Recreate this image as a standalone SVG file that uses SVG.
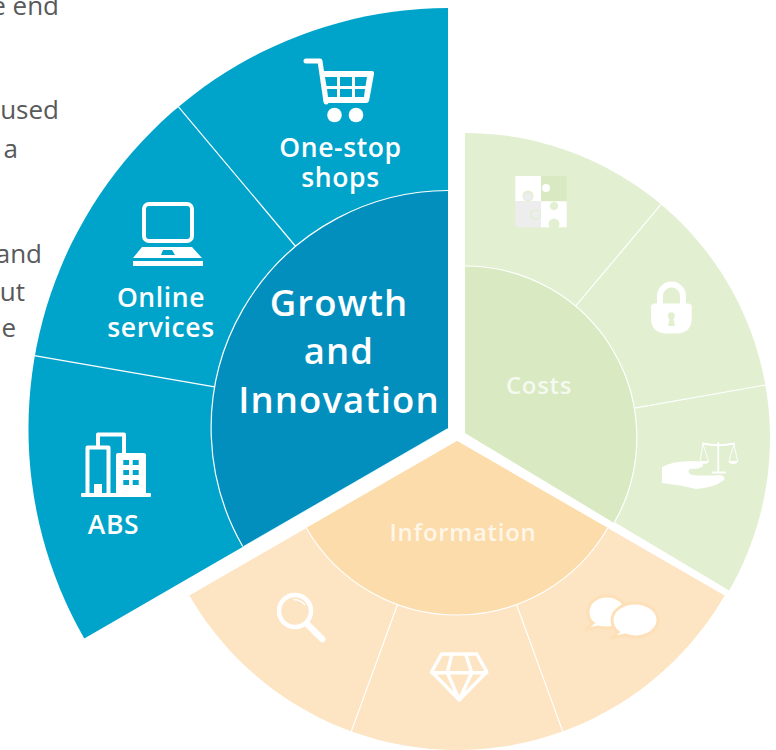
<svg xmlns="http://www.w3.org/2000/svg" width="776" height="750" viewBox="0 0 776 750">
<style>
text{font-family:"Open Sans","Noto Sans","Liberation Sans",sans-serif}
.side{font-size:26px;fill:#58595b;text-anchor:end}
.lab{font-size:26.500px;font-weight:600;fill:#fff;text-anchor:middle;letter-spacing:.6px}
.big{font-size:36.500px;font-weight:600;fill:#fff;text-anchor:middle;letter-spacing:1.100px}
.soft{font-size:24px;font-weight:600;fill:#fff;fill-opacity:.75;text-anchor:middle;letter-spacing:.7px}
.b-o{fill:#00a4ca}.b-i{fill:#028fbe}.g-o{fill:#e2efd1}.g-i{fill:#d9eac3}.o-o{fill:#fde4c2}.o-i{fill:#fcdcaa}
.sep{fill:none;stroke:#fff;stroke-width:1.200}
.w{fill:#fff}.ws{fill:none;stroke:#fff;stroke-linejoin:round;stroke-linecap:round}
</style>
<rect width="776" height="750" fill="#fff"/>
<g id="side-text">
<text class="side" x="59" y="15">e end</text>
<text class="side" x="59" y="119">used</text>
<text class="side" x="18" y="158">a</text>
<text class="side" x="42" y="263">and</text>
<text class="side" x="25" y="301">ut</text>
<text class="side" x="16" y="337">e</text>
</g>
<g id="growth-and-innovation">
<path class="b-o" d="M448 428.500L448 8A421 421 0 0 0 84.300 638.500Z"/>
<path class="b-i" d="M448 428L448 190.500A237.500 237.500 0 0 0 242.800 546.500Z"/>
<path class="sep" d="M448 190.500A237.500 237.500 0 0 0 242.800 546.500M178.500 106.800L295.700 246.500M34.400 355.600L214.600 386.800"/>
<path d="M243.500 546.500L447.500 428.700" fill="none" stroke="#fff" stroke-width=".8"/>
<g id="node-one-stop">
<path class="ws" stroke-width="5" d="M306 61H320L326 102"/>
<path class="w" d="M321 71H372Q374.500 71 374 74L369 101Q368.500 103 366 103H327Q324 103 323.500 100Z"/>
<path class="b-o" d="M325 77H337V86H326.500ZM340 77H352V86H340ZM355 77H367L365.500 86H355ZM327 89H337V97H328ZM340 89H352V97H340ZM355 89H365L364 97H355Z"/>
<circle class="w" cx="334.500" cy="115" r="7.300"/><circle class="w" cx="356" cy="115" r="7.300"/>
<text class="lab" x="340.500" y="157">One-stop</text>
<text class="lab" x="340.500" y="187">shops</text>
</g>
<g id="node-online">
<rect class="ws" stroke-width="4" x="144" y="204" width="48" height="37" rx="5"/>
<path class="w" fill-rule="evenodd" d="M142 247H192L202 258H133ZM163 250L161 255H175L172 250Z"/>
<rect class="w" x="133" y="261" width="70" height="5"/>
<text class="lab" x="161" y="307">Online</text>
<text class="lab" x="161" y="337">services</text>
</g>
<g id="node-abs">
<path class="ws" stroke-width="4" d="M98 445V434.500H124V453M87.500 493V447.500H108.500V493"/>
<path class="w" fill-rule="evenodd" d="M116 455Q116 453 118 453H144Q146 453 146 455V493H116ZM123.300 460V465H129V460ZM132.700 460V465H138.700V460ZM123.300 470V475H129V470ZM132.700 470V475H138.700V470ZM123.300 480V485H129V480ZM132.700 480V485H138.700V480Z"/>
<rect class="w" x="94" y="484" width="8" height="9"/>
<rect class="w" x="81" y="493" width="70" height="4" rx="1"/>
<text class="lab" x="113.500" y="534">ABS</text>
</g>
<text class="big" x="339" y="316">Growth</text>
<text class="big" x="339" y="364">and</text>
<text class="big" x="339" y="412.500">Innovation</text>
</g>
<g id="costs">
<path class="g-o" d="M465 433L465 133A305 305 0 0 1 729.100 590.500Z"/>
<path class="g-i" d="M465 433L465 266A171.500 171.500 0 0 1 614 523Z"/>
<path class="sep" d="M465 266A171.500 171.500 0 0 1 614 523M661 204.400L575.600 306.200M765.400 385L634.400 408.100"/>
<g id="node-puzzle">
<rect class="w" x="515.300" y="176" width="25.700" height="25.300"/>
<rect class="g-i" x="541" y="176" width="25.700" height="25.300"/>
<rect x="515.300" y="201.300" width="25.700" height="26" fill="#ededed"/>
<rect class="w" x="541" y="201.300" width="25.700" height="26"/>
<circle class="w" cx="546" cy="188" r="4"/>
<circle cx="528" cy="196" r="5.500" fill="#e2efd1"/><circle cx="528" cy="196.500" r="4" fill="#ededed"/>
<circle cx="554" cy="206" r="4" fill="#e2efd1"/>
<circle cx="535.500" cy="214.500" r="5.500" fill="#e2efd1"/><circle cx="536" cy="214.500" r="4" fill="#ededed"/>
<circle cx="554" cy="224" r="5.500" fill="#e2efd1"/>
</g>
<g id="node-lock">
<path class="ws" stroke-width="6" d="M660 305V296A11.500 11.500 0 0 1 683 296V305"/>
<path class="w" d="M655 303.500H688Q691.700 303.500 691.700 307V318Q691.700 333.500 676 333.500H667Q651 333.500 651 318V307Q651 303.500 655 303.500Z"/>
<circle class="g-o" cx="671.300" cy="315.700" r="3.500"/><path class="g-o" d="M670 317H673L675 326H668Z"/>
</g>
<g id="node-scales">
<path class="w" d="M662 467Q672 461 692 461Q704 461 703 466Q701 469 690 469Q686 472 692 475Q708 476 720 475Q726 476 724 480Q714 488 696 489Q680 485 662 483Z"/>
<path class="ws" stroke-width="1.800" d="M703 443.500Q718 447 734 443.500M718.300 443V472"/>
<path class="ws" stroke-width="2" d="M712.500 472.500H725"/>
<path class="ws" stroke-width=".9" d="M703 444L700 461M703 444L708.500 461M734 444L729 461M734 444L737.500 461"/>
<path class="w" d="M699.500 461H709Q708 464 704 464Q700 464 699.500 461ZM728.500 461H738Q737.500 464 733 464Q729 464 728.500 461Z"/>
</g>
<text class="soft" x="539" y="394">Costs</text>
</g>
<g id="information">
<path class="o-o" d="M457 441L724.600 595.500A309 309 0 0 1 189.400 595.500Z"/>
<path class="o-i" d="M457 441L607.700 528A174 174 0 0 1 306.300 528Z"/>
<path class="sep" d="M607.700 528A174 174 0 0 1 306.300 528M397.500 604.500L351.300 731.400M516.500 604.500L562.700 731.400"/>
<g id="node-search">
<circle class="ws" stroke-width="4.500" cx="295" cy="611" r="16"/>
<path class="ws" stroke-width="6.500" d="M308 625L322.300 639"/>
<path class="ws" stroke-width="1.500" d="M294 599.500Q301 600 305 605"/>
</g>
<g id="node-diamond">
<path class="ws" stroke-width="3.500" d="M441.700 654H476.700L486.700 671.700L459.300 700L431.700 671.700ZM431.700 672.700H486.700M451.700 655L447.300 672.700L459.300 700L471.700 672.700L466 655"/>
</g>
<g id="node-chat">
<path d="M607 596C596 596 588 603 588 612C588 617 590 621 593 623L585 630L598 627C601 628 604 628 607 628C618 628 626 621 626 612C626 603 618 596 607 596Z" fill="#fff" stroke="#fde0b8" stroke-width="3"/>
<path d="M635 603C622 603 612 611 612 620C612 625 614 629 618 632L611 638L625 635C628 636 631 637 635 637C648 637 658 629 658 620C658 611 648 603 635 603Z" fill="#fff" stroke="#fde0b8" stroke-width="3"/>
</g>
<text class="soft" x="463" y="541">Information</text>
</g>
</svg>
